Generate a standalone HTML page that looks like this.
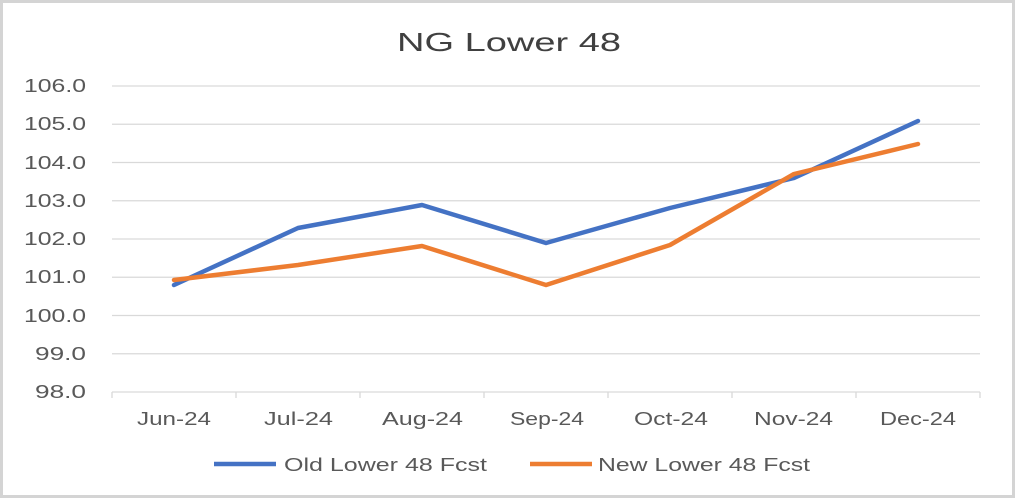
<!DOCTYPE html>
<html><head><style>
html,body{margin:0;padding:0;background:#fff;}
svg{display:block;}
text{font-family:"Liberation Sans",sans-serif;}
</style></head><body>
<svg width="1016" height="499" viewBox="0 0 1016 499">
<rect x="1.5" y="1.5" width="1012" height="495" fill="#fff" stroke="#d4d4d4" stroke-width="3"/>
<text x="397" y="51" textLength="224" lengthAdjust="spacingAndGlyphs" font-size="26" fill="#404040">NG Lower 48</text>
<g stroke="#d9d9d9" stroke-width="1.3">
<line x1="112" y1="86" x2="980" y2="86"/>
<line x1="112" y1="124.25" x2="980" y2="124.25"/>
<line x1="112" y1="162.5" x2="980" y2="162.5"/>
<line x1="112" y1="200.75" x2="980" y2="200.75"/>
<line x1="112" y1="239" x2="980" y2="239"/>
<line x1="112" y1="277.25" x2="980" y2="277.25"/>
<line x1="112" y1="315.5" x2="980" y2="315.5"/>
<line x1="112" y1="353.75" x2="980" y2="353.75"/>
<line x1="112" y1="392" x2="980" y2="392"/>
<line x1="112" y1="392" x2="112" y2="398"/>
<line x1="236" y1="392" x2="236" y2="398"/>
<line x1="360" y1="392" x2="360" y2="398"/>
<line x1="484" y1="392" x2="484" y2="398"/>
<line x1="608" y1="392" x2="608" y2="398"/>
<line x1="732" y1="392" x2="732" y2="398"/>
<line x1="856" y1="392" x2="856" y2="398"/>
<line x1="980" y1="392" x2="980" y2="398"/>
</g>
<g font-size="18" fill="#595959" lengthAdjust="spacingAndGlyphs">
<text x="24" y="92" textLength="62" lengthAdjust="spacingAndGlyphs">106.0</text>
<text x="24" y="130" textLength="62" lengthAdjust="spacingAndGlyphs">105.0</text>
<text x="24" y="169" textLength="62" lengthAdjust="spacingAndGlyphs">104.0</text>
<text x="24" y="207" textLength="62" lengthAdjust="spacingAndGlyphs">103.0</text>
<text x="24" y="245" textLength="62" lengthAdjust="spacingAndGlyphs">102.0</text>
<text x="24" y="283" textLength="62" lengthAdjust="spacingAndGlyphs">101.0</text>
<text x="24" y="322" textLength="62" lengthAdjust="spacingAndGlyphs">100.0</text>
<text x="35" y="360" textLength="51" lengthAdjust="spacingAndGlyphs">99.0</text>
<text x="35" y="398" textLength="51" lengthAdjust="spacingAndGlyphs">98.0</text>
</g>
<g font-size="18" fill="#595959">
<text x="137" y="425" textLength="74" lengthAdjust="spacingAndGlyphs">Jun-24</text>
<text x="264" y="425" textLength="69" lengthAdjust="spacingAndGlyphs">Jul-24</text>
<text x="382" y="425" textLength="81" lengthAdjust="spacingAndGlyphs">Aug-24</text>
<text x="510" y="425" textLength="74" lengthAdjust="spacingAndGlyphs">Sep-24</text>
<text x="634" y="425" textLength="74" lengthAdjust="spacingAndGlyphs">Oct-24</text>
<text x="754" y="425" textLength="79" lengthAdjust="spacingAndGlyphs">Nov-24</text>
<text x="880" y="425" textLength="76" lengthAdjust="spacingAndGlyphs">Dec-24</text>
</g>
<polyline fill="none" stroke="#4472c4" stroke-width="4.5" stroke-linejoin="round" stroke-linecap="round"
points="174,285 298,228 422,205 546,243 670,208 794,178 918,121"/>
<polyline fill="none" stroke="#ed7d31" stroke-width="4.5" stroke-linejoin="round" stroke-linecap="round"
points="174,280 298,265 422,246 546,285 670,245 794,174 918,144"/>
<line x1="214" y1="464" x2="276" y2="464" stroke="#4472c4" stroke-width="4.5"/>
<text x="284" y="471" font-size="18" fill="#595959" textLength="203" lengthAdjust="spacingAndGlyphs">Old Lower 48 Fcst</text>
<line x1="530" y1="464" x2="592" y2="464" stroke="#ed7d31" stroke-width="4.5"/>
<text x="598" y="471" font-size="18" fill="#595959" textLength="212" lengthAdjust="spacingAndGlyphs">New Lower 48 Fcst</text>
</svg>
</body></html>
